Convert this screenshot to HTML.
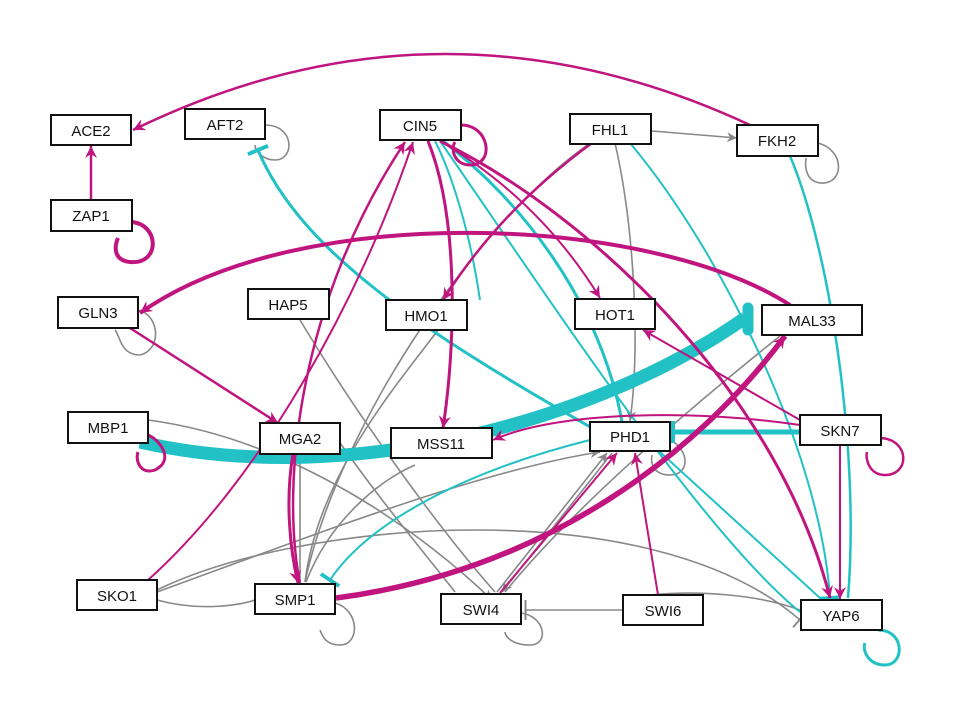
<!DOCTYPE html>
<html><head><meta charset="utf-8"><style>
html,body{margin:0;padding:0;background:#fff;}
svg{display:block;}
text{font-family:"Liberation Sans",sans-serif;font-size:15px;fill:#111;text-anchor:middle;}
</style></head><body>
<svg width="960" height="720" viewBox="0 0 960 720">
<defs>
<marker id="am" markerUnits="userSpaceOnUse" markerWidth="14" markerHeight="14" refX="12" refY="7" orient="auto"><path d="M0,1 L12,7 L0,13 L4,7Z" fill="#c0147f"/></marker>
<marker id="ag" markerUnits="userSpaceOnUse" markerWidth="12" markerHeight="12" refX="10" refY="6" orient="auto"><path d="M0,1 L10,6 L0,11 L3,6Z" fill="#888"/></marker>
<marker id="tc" markerUnits="userSpaceOnUse" markerWidth="4" markerHeight="22" refX="2" refY="11" orient="auto"><rect x="0" y="0" width="4" height="22" fill="#22c1c6"/></marker>
<marker id="tg" markerUnits="userSpaceOnUse" markerWidth="3" markerHeight="20" refX="1.5" refY="10" orient="auto"><rect x="0" y="0" width="2" height="20" fill="#888"/></marker>
</defs>
<g fill="none">
<g stroke="#888" stroke-width="1.6">
<path d="M652,131 L737,138" marker-end="url(#ag)"/>
<path d="M818,143 C845,150 845,185 820,183 C805,181 805,165 806,158"/>
<path d="M265,125 C295,125 295,160 275,160 C262,160 255,150 255,145"/>
<path d="M138,310 C160,315 162,350 140,355 C120,355 120,335 115,330"/>
<path d="M615,143 C635,230 640,350 630,421" marker-end="url(#ag)"/>
<path d="M590,143 C480,220 340,420 305,582"/>
<path d="M300,320 C360,420 440,530 495,592"/>
<path d="M148,420 C300,440 430,540 492,600" marker-end="url(#ag)"/>
<path d="M338,440 C380,500 430,560 455,592"/>
<path d="M157,590 C300,520 650,490 800,620" marker-end="url(#tg)"/>
<path d="M157,600 C200,612 240,605 255,600"/>
<path d="M157,592 C300,540 480,470 600,452" marker-end="url(#ag)"/>
<path d="M623,610 L525,610" marker-end="url(#tg)"/>
<path d="M650,595 C700,590 760,595 800,610"/>
<path d="M520,613 C545,615 550,645 530,645 C510,645 505,635 505,632"/>
<path d="M335,603 C360,610 360,645 340,645 C325,645 322,635 320,630"/>
<path d="M670,440 C690,450 690,475 670,475 C655,475 650,465 652,455"/>
<path d="M497,592 L607,453" marker-end="url(#ag)"/>
<path d="M612,453 L502,592" marker-end="url(#ag)"/>
<path d="M780,336 C700,400 580,500 505,592"/>
<path d="M306,582 C330,520 380,480 415,465"/>
<path d="M300,582 C300,530 300,490 300,462" marker-end="url(#tg)"/>
<path d="M460,300 C420,360 320,460 305,582"/>
</g>
<g stroke="#22c1c6">
<path d="M745,318 C600,420 350,490 140,442" stroke-width="13"/>
<path d="M748,308 L748,330" stroke-width="11" stroke-linecap="round"/>
<path d="M800,432 L673,432" stroke-width="5" marker-end="url(#tc)"/>
<path d="M258,150 C300,250 420,330 592,428" stroke-width="3" marker-start="url(#tc)"/>
<path d="M443,141 C520,200 600,300 622,422" stroke-width="3"/>
<path d="M440,141 C550,300 700,530 800,612" stroke-width="2"/>
<path d="M630,143 C720,250 820,450 830,598" stroke-width="2" marker-end="url(#tc)"/>
<path d="M790,156 C830,250 860,450 848,598" stroke-width="2.5"/>
<path d="M660,452 L820,598" stroke-width="2"/>
<path d="M590,440 C470,470 370,520 330,580" stroke-width="2" marker-end="url(#tc)"/>
<path d="M435,141 C450,170 470,230 480,300" stroke-width="2"/>
<path d="M878,630 C905,630 905,665 885,665 C868,665 862,650 865,643" stroke-width="3"/>
</g>
<g stroke="#c0147f">
<path d="M752,126 Q440,-20 133,130" stroke-width="2.5" marker-end="url(#am)"/>
<path d="M91,200 L91,146" stroke-width="2.5" marker-end="url(#am)"/>
<path d="M132,222 C160,225 160,265 130,262 C112,260 115,245 118,238" stroke-width="4"/>
<path d="M790,305 C650,215 300,200 140,313" stroke-width="4" marker-end="url(#am)"/>
<path d="M130,328 L278,423" stroke-width="2.5" marker-end="url(#am)"/>
<path d="M300,584 C280,480 300,300 405,142" stroke-width="2.5" marker-end="url(#am)"/>
<path d="M148,580 C260,480 360,300 413,142" stroke-width="2" marker-end="url(#am)"/>
<path d="M293,454 C285,500 290,550 298,583" stroke-width="3" marker-end="url(#am)"/>
<path d="M461,125 C490,125 495,165 470,165 C455,165 450,150 455,142" stroke-width="3"/>
<path d="M592,143 Q500,210 443,300" stroke-width="2.5" marker-end="url(#am)"/>
<path d="M428,141 C460,220 455,350 443,428" stroke-width="3" marker-end="url(#am)"/>
<path d="M440,141 Q540,200 600,298" stroke-width="2" marker-end="url(#am)"/>
<path d="M440,141 C600,220 780,400 830,598" stroke-width="3" marker-end="url(#am)"/>
<path d="M336,598 C550,570 700,450 785,336" stroke-width="5.5" marker-end="url(#am)"/>
<path d="M800,420 L643,330" stroke-width="2" marker-end="url(#am)"/>
<path d="M800,425 C700,410 560,410 493,440" stroke-width="2" marker-end="url(#am)"/>
<path d="M840,445 L840,599" stroke-width="2" marker-end="url(#am)"/>
<path d="M881,438 C910,440 910,475 885,475 C870,475 865,460 867,452" stroke-width="2.5"/>
<path d="M658,595 L635,453" stroke-width="2" marker-end="url(#am)"/>
<path d="M500,593 L617,453" stroke-width="2" marker-end="url(#am)"/>
<path d="M148,435 C160,440 175,460 155,470 C140,475 135,460 138,452" stroke-width="3"/>
</g>
</g>
<g fill="#fff" stroke="#111" stroke-width="2">
<rect x="51" y="115" width="80" height="30"/><rect x="185" y="109" width="80" height="30"/>
<rect x="380" y="110" width="81" height="30"/><rect x="570" y="114" width="81" height="30"/>
<rect x="737" y="125" width="81" height="31"/><rect x="51" y="200" width="81" height="31"/>
<rect x="58" y="297" width="80" height="31"/><rect x="248" y="289" width="81" height="30"/>
<rect x="386" y="300" width="81" height="30"/><rect x="575" y="299" width="80" height="30"/>
<rect x="762" y="305" width="100" height="30"/><rect x="68" y="412" width="80" height="31"/>
<rect x="260" y="423" width="80" height="31"/><rect x="391" y="428" width="101" height="30"/>
<rect x="590" y="422" width="80" height="29"/><rect x="800" y="415" width="81" height="30"/>
<rect x="77" y="580" width="80" height="30"/><rect x="255" y="584" width="80" height="30"/>
<rect x="441" y="594" width="80" height="30"/><rect x="623" y="595" width="80" height="30"/>
<rect x="801" y="600" width="81" height="30"/>
</g>
<g>
<text x="91" y="136">ACE2</text><text x="225" y="130">AFT2</text>
<text x="420" y="131">CIN5</text><text x="610" y="135">FHL1</text>
<text x="777" y="146">FKH2</text><text x="91" y="221">ZAP1</text>
<text x="98" y="318">GLN3</text><text x="288" y="310">HAP5</text>
<text x="426" y="321">HMO1</text><text x="615" y="320">HOT1</text>
<text x="812" y="326">MAL33</text><text x="108" y="433">MBP1</text>
<text x="300" y="444">MGA2</text><text x="441" y="449">MSS11</text>
<text x="630" y="442">PHD1</text><text x="840" y="436">SKN7</text>
<text x="117" y="601">SKO1</text><text x="295" y="605">SMP1</text>
<text x="481" y="615">SWI4</text><text x="663" y="616">SWI6</text>
<text x="841" y="621">YAP6</text>
</g>
</svg>
</body></html>
